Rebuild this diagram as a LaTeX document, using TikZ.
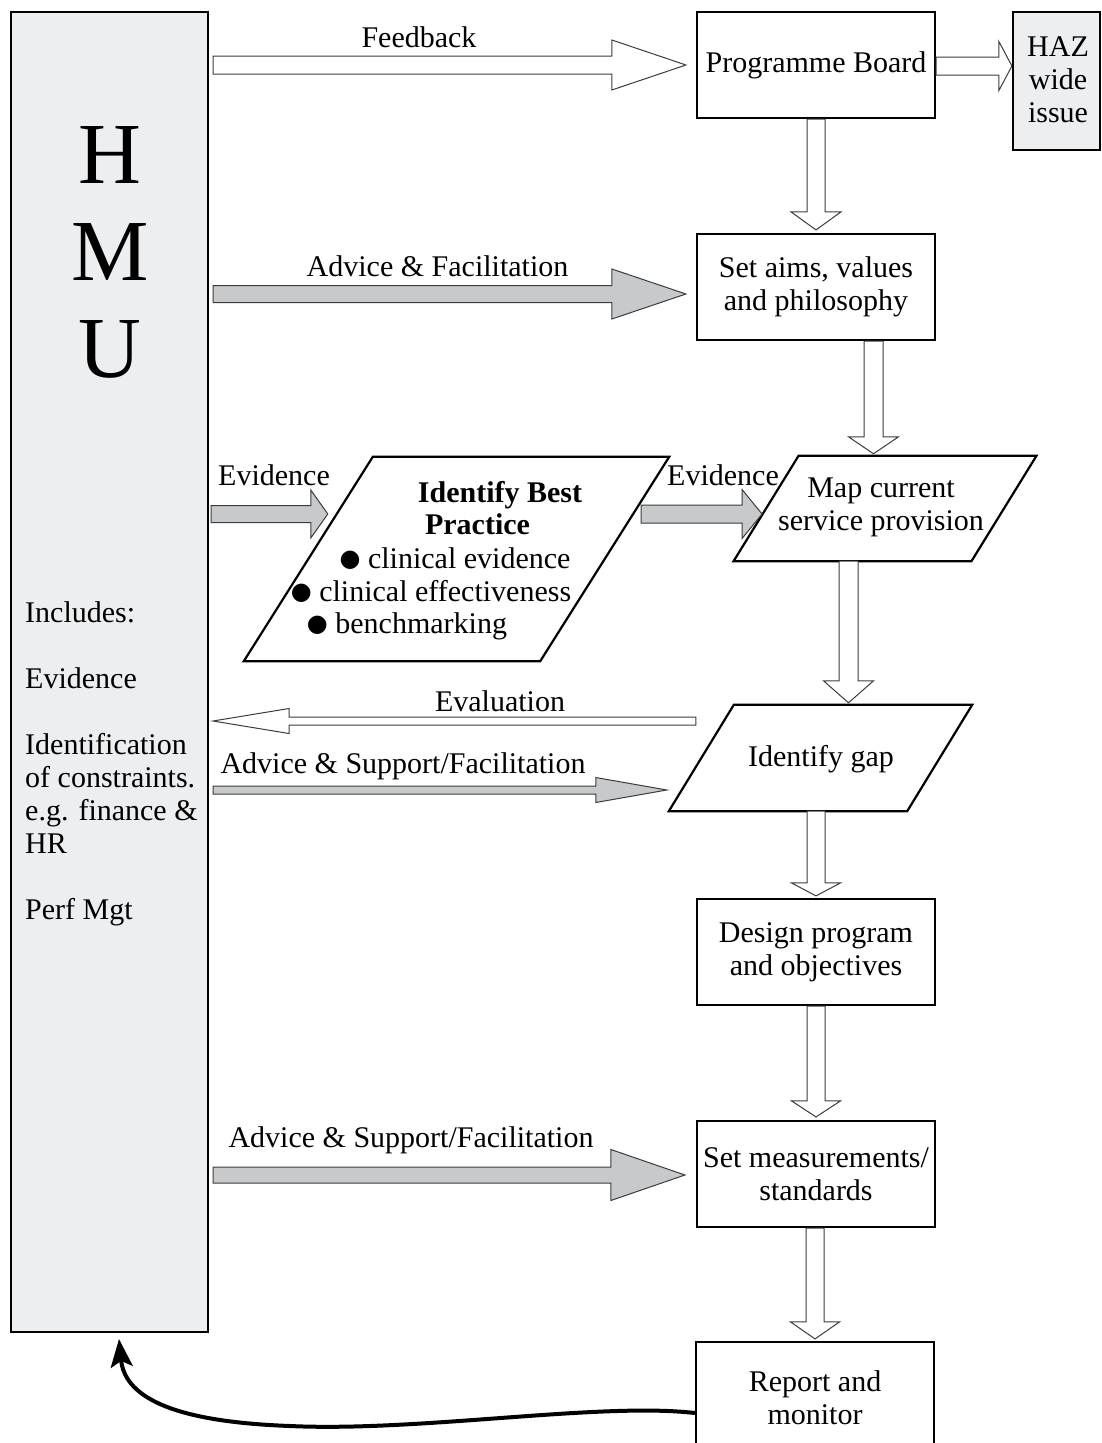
\documentclass[tikz,border=0pt]{standalone}
\usepackage{fontspec}
\setmainfont{Liberation Serif}
\newfontfamily\symfnt{DejaVu Sans}
\usetikzlibrary{arrows.meta,calc}
\definecolor{panelgray}{RGB}{237,238,240}
\definecolor{flowgray}{RGB}{200,201,203}
\definecolor{edgegray}{RGB}{60,60,60}

\tikzset{
  txt/.style={font=\fontsize{30}{33}\selectfont, inner sep=0pt, align=center},
  stepbox/.style={draw=black, line width=2.2pt, fill=white, minimum width=238pt,
    minimum height=106pt, txt},
  sidepanel/.style={draw=black, line width=2pt, fill=panelgray, inner sep=0pt},
  paraline/.style={draw=black, line width=2.2pt, fill=white, line join=miter},
  hollowflow/.style={draw=edgegray, line width=1pt, fill=white, line join=miter},
  greyflow/.style={draw=edgegray, line width=1pt, fill=flowgray, line join=miter},
  bigletter/.style={font=\fontsize{87}{90}\selectfont, inner sep=0pt, anchor=base},
  lbl/.style={txt, anchor=base},
}
\newcommand\dotmark{\raisebox{1.5pt}{\symfnt\fontsize{24}{24}\selectfont ●}}

% block arrow pointing right: style, start, tip, shaft half, head half, head length
\newcommand\rightblock[6]{\path[#1] let \p1=(#2), \p2=(#3) in
  (\x1,\y2+#4) -- (\x2-#6,\y2+#4) -- (\x2-#6,\y2+#5) -- (\x2,\y2)
  -- (\x2-#6,\y2-#5) -- (\x2-#6,\y2-#4) -- (\x1,\y2-#4) -- cycle;}
% block arrow pointing left
\newcommand\leftblock[6]{\path[#1] let \p1=(#2), \p2=(#3) in
  (\x1,\y1+#4) -- (\x2+#6,\y1+#4) -- (\x2+#6,\y1+#5) -- (\x2,\y1)
  -- (\x2+#6,\y1-#5) -- (\x2+#6,\y1-#4) -- (\x1,\y1-#4) -- cycle;}
% block arrow pointing down
\newcommand\downblock[6]{\path[#1] let \p1=(#2), \p2=(#3) in
  (\x2-#4,\y1) -- (\x2-#4,\y2+#6) -- (\x2-#5,\y2+#6) -- (\x2,\y2)
  -- (\x2+#5,\y2+#6) -- (\x2+#4,\y2+#6) -- (\x2+#4,\y1) -- cycle;}

\begin{document}
\begin{tikzpicture}[x=1pt,y=-1pt]
\useasboundingbox (0,0) rectangle (1101,1443);
\clip (0,0) rectangle (1101,1443);
\fill[white] (0,0) rectangle (1101,1443);

% side panel
\node[sidepanel, minimum width=197pt, minimum height=1320pt] (hmu) at (109.5,672) {};
\node[bigletter] (hmuH) at (110,183) {H};
\node[bigletter] (hmuM) at (110,280) {M};
\node[bigletter] (hmuU) at (110,377) {U};
\node[txt, align=left, anchor=north west] (hmunotes) at (25,601)
  {Includes:\\[33pt]Evidence\\[33pt]Identification\\of constraints.\\e.g. finance \&\\HR\\[33pt]Perf Mgt};

% process boxes
\node[stepbox] (pb) at (816,65) {Programme Board};
\node[sidepanel, line width=2.2pt, minimum width=87pt, minimum height=138pt] (haz) at (1056.5,81) {};
\node[txt] (hazt) at (1058,80) {HAZ\\wide\\issue};
\node[stepbox] (aims) at (816,287) {Set aims, values\\and philosophy};
\node[stepbox] (design) at (816,952) {Design program\\and objectives};
\node[stepbox] (setmeas) at (816,1174) {Set measurements/\\standards};
\node[stepbox, minimum height=112pt] (report) at (815,1398) {Report and\\monitor};

% parallelogram steps
\node[inner sep=0pt, minimum width=296pt, minimum height=204pt] (ibp) at (456.5,559) {};
\draw[paraline] ($(ibp.north west)+(64.5,0)$) -- ($(ibp.north east)+(64.5,0)$)
  -- ($(ibp.south east)+(-64.5,0)$) -- ($(ibp.south west)+(-64.5,0)$) -- cycle;
\node[inner sep=0pt, minimum width=237.5pt, minimum height=105pt] (map) at (885,508.5) {};
\draw[paraline] ($(map.north west)+(32.5,0)$) -- ($(map.north east)+(32.5,0)$)
  -- ($(map.south east)+(-32.5,0)$) -- ($(map.south west)+(-32.5,0)$) -- cycle;
\node[inner sep=0pt, minimum width=238pt, minimum height=106pt] (gap) at (820.5,758) {};
\draw[paraline] ($(gap.north west)+(32.5,0)$) -- ($(gap.north east)+(32.5,0)$)
  -- ($(gap.south east)+(-32.5,0)$) -- ($(gap.south west)+(-32.5,0)$) -- cycle;

\node[lbl] (ibp1) at (500,502) {\bfseries Identify Best};
\node[lbl] (ibp2) at (477.5,534) {\bfseries Practice};
\node[lbl] (ibp3) at (455,568) {\dotmark{} clinical evidence};
\node[lbl] (ibp4) at (431,601) {\dotmark{} clinical effectiveness};
\node[lbl] (ibp5) at (407,633) {\dotmark{} benchmarking};
\node[txt] (mapt) at (881,507) {Map current\\service provision};
\node[txt] (gapt) at (821,759) {Identify gap};

% horizontal flows
\rightblock{hollowflow}{$(hmu.east)+(4,0)$}{$(pb.west)+(-10,0)$}{9pt}{25pt}{74pt}
\rightblock{hollowflow}{pb.east}{$(haz.west)+(0,-15)$}{9pt}{24.5pt}{13pt}
\rightblock{greyflow}{$(hmu.east)+(4,0)$}{$(aims.west)+(-10,7)$}{8.5pt}{25pt}{74pt}
\rightblock{greyflow}{$(hmu.east)+(2,0)$}{$(ibp.west)+(19.5,-45)$}{8.5pt}{24pt}{17pt}
\rightblock{greyflow}{$(ibp.east)+(36.5,0)$}{$(map.west)+(-4,5.5)$}{9pt}{24.5pt}{20pt}
\leftblock{hollowflow}{$(gap.west)+(-5.5,-37)$}{$(hmu.east)+(4,0)$}{4pt}{12.5pt}{76pt}
\rightblock{greyflow}{$(hmu.east)+(4,0)$}{$(gap.west)+(-34.5,32)$}{4pt}{12.5pt}{71pt}
\rightblock{greyflow}{$(hmu.east)+(4,0)$}{$(setmeas.west)+(-11,1)$}{8pt}{25.5pt}{74pt}

% vertical flows
\downblock{hollowflow}{pb.south}{$(aims.north)+(0,-3)$}{9pt}{25pt}{18pt}
\downblock{hollowflow}{aims.south}{$(map.north)+(-11.5,-2)$}{9.5pt}{25pt}{17pt}
\downblock{hollowflow}{map.south}{$(gap.north)+(28,-2)$}{9.5pt}{25pt}{22pt}
\downblock{hollowflow}{gap.south}{$(design.north)+(0,-2)$}{9pt}{24.5pt}{13pt}
\downblock{hollowflow}{design.south}{$(setmeas.north)+(0,-3)$}{9pt}{24.5pt}{16pt}
\downblock{hollowflow}{setmeas.south}{$(report.north)+(0,-2)$}{9pt}{24.5pt}{17pt}

% flow labels
\node[lbl] (lfeed) at (419,47) {Feedback};
\node[lbl] (ladv) at (437.5,276) {Advice \& Facilitation};
\node[lbl] (lev1) at (274,485) {Evidence};
\node[lbl] (lev2) at (723,485) {Evidence};
\node[lbl] (leval) at (500,711) {Evaluation};
\node[lbl] (las1) at (403,773) {Advice \& Support/Facilitation};
\node[lbl] (las2) at (411,1147) {Advice \& Support/Facilitation};

% feedback loop back to the panel
\coordinate (dip) at (290,1426);
\draw[line width=4pt, -{Stealth[length=28pt,width=22pt,inset=6pt]}]
  ($(report.west)+(0,15)$) .. controls (600,1402) and (420,1432) .. (dip)
  .. controls (180,1422) and (125,1400) .. ($(hmu.south)+(9.5,6)$);
\end{tikzpicture}
\end{document}
